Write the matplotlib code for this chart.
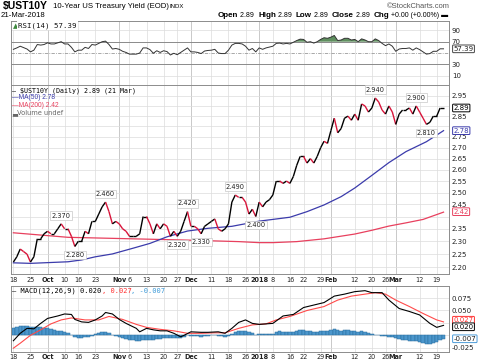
import numpy as np
import pandas as pd
import matplotlib
matplotlib.use("Agg")
import matplotlib.pyplot as plt
from matplotlib.collections import LineCollection

# ------------------------------------------------------------
# data
# ------------------------------------------------------------
holidays = ["2017-10-09", "2017-11-23", "2017-12-25", "2018-01-01", "2018-01-15", "2018-02-19"]
dates = pd.bdate_range("2017-09-18", "2018-03-21")
dates = dates[~dates.isin(pd.to_datetime(holidays))]

yields = [
    2.22, 2.24, 2.27, 2.26, 2.25, 2.22, 2.24, 2.31, 2.31, 2.33,
    2.34, 2.33, 2.33, 2.35, 2.37, 2.35, 2.35, 2.32, 2.28, 2.30,
    2.30, 2.34, 2.33, 2.38, 2.38, 2.41, 2.44, 2.46, 2.42, 2.37,
    2.38, 2.37, 2.35, 2.34, 2.32, 2.32, 2.32, 2.33, 2.40, 2.40,
    2.37, 2.33, 2.37, 2.35, 2.37, 2.36, 2.32, 2.34, 2.32, 2.34,
    2.38, 2.42, 2.36, 2.36, 2.35, 2.33, 2.36, 2.37, 2.38, 2.39,
    2.35, 2.34, 2.35, 2.37, 2.46, 2.49, 2.48, 2.48, 2.46, 2.41,
    2.43, 2.40, 2.46, 2.44, 2.46, 2.47, 2.49, 2.55, 2.55, 2.54,
    2.55, 2.54, 2.57, 2.62, 2.66, 2.66, 2.63, 2.65, 2.63, 2.66,
    2.70, 2.73, 2.72, 2.78, 2.84, 2.77, 2.79, 2.84, 2.85, 2.83,
    2.86, 2.83, 2.91, 2.90, 2.87, 2.89, 2.94, 2.92, 2.88, 2.86,
    2.90, 2.87, 2.81, 2.86, 2.88, 2.88, 2.89, 2.86, 2.90, 2.87,
    2.84, 2.81, 2.82, 2.85, 2.85, 2.89, 2.89,
]

rsi = [
    56.5, 59, 62, 59.5, 57, 52, 55, 65, 64, 65,
    68, 66, 66, 68, 70, 66, 66, 60, 52, 55,
    55, 60, 58, 65, 64, 67, 70, 71, 65, 57,
    58, 56.5, 53, 51, 48, 48, 48, 50, 59, 59,
    56, 49.5, 54, 51, 54, 52.5, 46.5, 49.5, 47, 51,
    55, 59, 52, 52, 51, 49, 53.5, 54.5, 55, 56.5,
    50, 49, 49, 55, 64, 67, 67, 66, 62, 55,
    58, 52, 59, 56.5, 59, 60.5, 62, 67, 67.5, 66,
    67, 66, 69, 72, 74.5, 74, 69, 70, 67.5, 70,
    74, 77, 76, 78, 81, 72, 73, 76, 76, 73,
    74, 70, 75, 73, 70, 70, 75, 72, 67, 63,
    66, 62, 53, 57, 58, 58, 59, 55, 59, 56,
    52, 48, 49, 53, 53, 57.4, 57.39,
]

macd_hist = [
    0.015, 0.017, 0.019, 0.019, 0.018, 0.016, 0.016, 0.017, 0.016, 0.015,
    0.014, 0.012, 0.010, 0.009, 0.008, 0.006, 0.004, 0.000, -0.004, -0.005,
    -0.005, -0.004, -0.004, -0.001, 0.002, 0.004, 0.006, 0.007, 0.005, 0.001,
    -0.001, -0.003, -0.005, -0.007, -0.009, -0.010, -0.011, -0.012, -0.010, -0.009,
    -0.009, -0.009, -0.007, -0.007, -0.006, -0.006, -0.006, -0.006, -0.006, -0.005,
    -0.003, 0.000, -0.001, -0.001, -0.002, -0.003, -0.002, -0.001, 0.000, 0.001,
    -0.001, -0.002, -0.003, -0.002, 0.002, 0.006, 0.008, 0.009, 0.009, 0.006,
    0.004, 0.001, 0.003, 0.002, 0.002, 0.002, 0.003, 0.006, 0.008, 0.007,
    0.007, 0.006, 0.007, 0.009, 0.011, 0.011, 0.009, 0.008, 0.007, 0.007,
    0.008, 0.009, 0.008, 0.010, 0.013, 0.010, 0.009, 0.010, 0.010, 0.009,
    0.009, 0.007, 0.008, 0.007, 0.004, 0.002, 0.001, 0.000, -0.001, -0.002,
    -0.003, -0.004, -0.006, -0.008, -0.009, -0.010, -0.011, -0.011, -0.012, -0.013,
    -0.015, -0.017, -0.017, -0.015, -0.013, -0.010, -0.007,
]

ma50_dates = ["09-18", "09-25", "10-11", "10-17", "10-23", "10-30", "11-07", "11-14",
              "11-21", "11-30", "12-08", "12-19", "01-02", "01-16", "01-23", "01-30",
              "02-06", "02-12", "02-20", "02-27", "03-06", "03-14", "03-21"]
ma50_vals = [2.217, 2.215, 2.221, 2.228, 2.240, 2.251, 2.273, 2.292,
             2.318, 2.341, 2.352, 2.360, 2.381, 2.397, 2.420, 2.448,
             2.483, 2.520, 2.575, 2.632, 2.682, 2.728, 2.780]

ma200_dates = ["09-18", "10-11", "11-07", "11-30", "12-21", "01-02", "01-08", "01-18",
               "01-30", "02-12", "02-20", "02-27", "03-06", "03-13", "03-21"]
ma200_vals = [2.334, 2.316, 2.310, 2.305, 2.299, 2.295, 2.295, 2.299,
              2.310, 2.329, 2.344, 2.361, 2.374, 2.388, 2.418]

macd_dates = ["09-18", "09-20", "09-22", "09-26", "09-28", "10-02", "10-05", "10-10",
              "10-12", "10-13", "10-17", "10-19", "10-23", "10-25", "10-26", "10-30",
              "11-01", "11-03", "11-08", "11-09", "11-13", "11-15", "11-17", "11-21",
              "11-24", "11-28", "11-29", "12-01", "12-06", "12-08", "12-13", "12-15",
              "12-19", "12-21", "12-26", "12-28", "01-02", "01-08", "01-11", "01-17",
              "01-22", "01-25", "01-30", "02-02", "02-07", "02-12", "02-15", "02-20",
              "02-23", "02-27", "03-02", "03-07", "03-12", "03-15", "03-19", "03-21"]
macd_vals = [-0.011, 0.004, 0.014, 0.013, 0.024, 0.034, 0.039, 0.043,
             0.042, 0.032, 0.027, 0.026, 0.031, 0.039, 0.046, 0.043,
             0.032, 0.024, 0.014, 0.007, 0.014, 0.011, 0.009, 0.009,
             0.004, -0.003, 0.000, 0.007, 0.006, 0.006, 0.007, 0.004,
             0.014, 0.026, 0.031, 0.024, 0.022, 0.024, 0.039, 0.042,
             0.056, 0.061, 0.066, 0.079, 0.083, 0.088, 0.090, 0.086,
             0.086, 0.071, 0.054, 0.048, 0.041, 0.024, 0.016, 0.020]

signal_dates = ["09-18", "09-20", "09-25", "09-28", "10-03", "10-06", "10-12", "10-18",
                "10-24", "10-27", "11-02", "11-08", "11-13", "11-17", "11-24", "11-30",
                "12-06", "12-12", "12-15", "12-21", "12-28", "01-04", "01-09", "01-16",
                "01-23", "01-30", "02-05", "02-09", "02-15", "02-21", "02-26", "03-01",
                "03-07", "03-13", "03-19", "03-21"]
signal_vals = [-0.026, -0.016, 0.000, 0.011, 0.023, 0.031, 0.035, 0.031,
               0.031, 0.038, 0.032, 0.022, 0.016, 0.012, 0.009, 0.004,
               0.004, 0.005, 0.005, 0.014, 0.021, 0.023, 0.031, 0.038,
               0.050, 0.058, 0.071, 0.079, 0.083, 0.086, 0.083, 0.071,
               0.058, 0.044, 0.031, 0.027]

tick_dates = ["09-18", "09-25", "10-02", "10-10", "10-16", "10-23", "11-01", "11-06",
              "11-13", "11-20", "11-27", "12-01", "12-11", "12-18", "12-26", "01-02",
              "01-08", "01-16", "01-22", "01-29", "02-01", "02-12", "02-20", "02-26",
              "03-01", "03-12", "03-19"]
tick_labels = ["18", "25", "Oct", "10", "16", "23", "Nov", "6", "13", "20", "27", "Dec",
               "11", "18", "26", "2018", "8", "16", "22", "29", "Feb", "12", "20", "26",
               "Mar", "12", "19"]
month_labels = ["Oct", "Nov", "Dec", "2018", "Feb", "Mar"]

peak_dates = ["10-06", "10-13", "10-26", "11-27", "11-30", "12-06", "12-20", "12-29",
              "02-21", "03-09", "03-14"]
peak_above = [True, False, True, False, True, False, True, False, True, True, False]

# grid levels and the labels left visible beside the value tags
price_grid = [2.20, 2.25, 2.30, 2.35, 2.40, 2.45, 2.50, 2.55, 2.60, 2.65,
              2.70, 2.75, 2.80, 2.85, 2.90, 2.95]
price_ticks = [2.20, 2.25, 2.30, 2.35, 2.45, 2.50, 2.55, 2.60, 2.65,
               2.70, 2.75, 2.85, 2.95]
rsi_grid = [90, 70, 50, 30, 10]
rsi_ticks = [90, 70, 30, 10]
macd_grid = [0.075, 0.050, 0.025, 0.000, -0.025]
macd_ticks = [0.075, 0.050, -0.025]


def pos(md):
    year = 2017 if int(md[:2]) >= 9 else 2018
    return dates.get_loc(pd.Timestamp(f"{year}-{md}"))


x = np.arange(len(dates))
yields = np.array(yields)
rsi = np.array(rsi)
tick_pos = [pos(d) for d in tick_dates]

# ------------------------------------------------------------
# figure layout (StockCharts style)
# ------------------------------------------------------------
W, H = 480, 363
fig = plt.figure(figsize=(W / 100, H / 100), dpi=100)
left, right = 11 / W, 449 / W
ax_rsi = fig.add_axes([left, 1 - 85 / H, right - left, 64 / H])
ax = fig.add_axes([left, 1 - 274 / H, right - left, 189 / H])
ax_m = fig.add_axes([left, 1 - 352 / H, right - left, 66 / H])

RED = "#d8143a"
BLUE = "#3b3bab"
MA_RED = "#e8405e"
GRID = "#dcdcdc"
GRID_M = "#b4b4b4"
LBL = "#222222"
SANS = ["Liberation Sans", "DejaVu Sans"]

for a in (ax_rsi, ax, ax_m):
    for s in a.spines.values():
        s.set_color("#8c8c8c")
        s.set_linewidth(0.7)
    a.yaxis.tick_right()
    a.tick_params(axis="both", length=0, labelsize=5, colors=LBL, pad=2)
    a.set_xlim(-0.7, 127.6)
    for p, lab in zip(tick_pos, tick_labels):
        a.axvline(p, color=GRID_M if lab in month_labels else GRID, lw=0.5, zorder=0)
    a.set_xticks(tick_pos)
    a.set_xticklabels([])

for a in (ax, ax_m):
    a.set_xticklabels(tick_labels)
    for t in a.get_xticklabels():
        t.set_fontsize(4.7)
        if t.get_text() in month_labels:
            t.set_fontweight("bold")
ax.tick_params(axis="x", pad=2.2)
ax_m.tick_params(axis="x", pad=1.2)

# ---- RSI panel ----
ax_rsi.set_ylim(-6.6, 106.6)
for v in rsi_grid:
    if v in (70, 30):
        ax_rsi.axhline(v, color="#8a8a8a", lw=0.7, zorder=1)
    elif v == 50:
        ax_rsi.axhline(v, color="#9a9a9a", lw=0.6, dashes=(4, 1.5, 1, 1.5), zorder=1)
    else:
        ax_rsi.axhline(v, color=GRID, lw=0.5, zorder=0)
ax_rsi.fill_between(x, rsi, 70, where=rsi > 70, interpolate=True,
                    color="#5f8f5f", lw=0, zorder=2)
ax_rsi.plot(x, rsi, color="#333333", lw=0.7, zorder=3)
ax_rsi.set_yticks(rsi_ticks)
ax_rsi.set_yticklabels([str(v) for v in rsi_ticks])
t_icon = ax_rsi.text(0.004, 0.97, "\u25b2", transform=ax_rsi.transAxes,
                     fontsize=5, family="DejaVu Sans", va="top", ha="left", color="#3f8a3f",
                     bbox=dict(boxstyle="square,pad=0.15", fc="white", ec="none"), zorder=5)
ax_rsi.annotate("RSI(14) 57.39", xy=(1, 0), xycoords=t_icon, va="bottom", ha="left",
                fontsize=5.3, family="DejaVu Sans Mono", color="#111111", zorder=5,
                bbox=dict(boxstyle="square,pad=0.15", fc="white", ec="none"))

# ---- price panel ----
ax.set_yscale("log")
ax.set_ylim(2.175, 3.006)
for v in price_grid:
    ax.axhline(v, color=GRID, lw=0.5, zorder=0)
ax.set_yticks(price_ticks)
ax.set_yticklabels([f"{v:.2f}" for v in price_ticks])
ax.yaxis.set_minor_locator(matplotlib.ticker.NullLocator())

ax.plot([pos(d) for d in ma200_dates], ma200_vals, color=MA_RED, lw=0.9, zorder=2)
ax.plot([pos(d) for d in ma50_dates], ma50_vals, color=BLUE, lw=0.9, zorder=2)

pts = np.column_stack([x, yields])
segs = np.stack([pts[:-1], pts[1:]], axis=1)
seg_cols = [RED if b < a else "black" for a, b in zip(yields[:-1], yields[1:])]
ax.add_collection(LineCollection(segs, colors=seg_cols, linewidths=1.0, zorder=3))

for d, above in zip(peak_dates, peak_above):
    p = pos(d)
    ax.annotate(f"{yields[p]:.3f}", xy=(p, yields[p]), xytext=(0, 6 if above else -6),
                textcoords="offset points", ha="center", va="center", fontsize=4.8,
                color="#222222", zorder=6,
                bbox=dict(boxstyle="square,pad=0.18", fc="white", ec="#c8c8c8", lw=0.5))

leg_y = [0.968, 0.933, 0.894, 0.856]
ax.text(0.003, leg_y[0], "\u2014 $UST10Y (Daily) 2.89 (21 Mar)", transform=ax.transAxes,
        fontsize=4.8, family="DejaVu Sans Mono", color="black", va="center")
ax.text(0.003, leg_y[1], "\u2014MA(50) 2.78", transform=ax.transAxes,
        fontsize=4.8, family=SANS, color=BLUE, va="center")
ax.text(0.003, leg_y[2], "\u2014MA(200) 2.42", transform=ax.transAxes,
        fontsize=4.8, family=SANS, color=MA_RED, va="center")
ax.text(0.003, leg_y[3], "\u2583Volume undef", transform=ax.transAxes,
        fontsize=4.8, family=["DejaVu Sans", "Liberation Sans"], color="#666666", va="center")

# ---- MACD panel ----
ax_m.set_ylim(-0.0337, 0.0994)
for v in macd_grid:
    ax_m.axhline(v, color=GRID, lw=0.5, zorder=0)
ax_m.bar(x, macd_hist, width=1.0, color="#4b96cc", edgecolor="#2a6d9e", linewidth=0.35, zorder=2)
ax_m.plot([pos(d) for d in signal_dates], signal_vals, color="#ff4a4a", lw=0.8, zorder=3)
ax_m.plot([pos(d) for d in macd_dates], macd_vals, color="black", lw=0.8, zorder=4)
ax_m.set_yticks(macd_ticks)
ax_m.set_yticklabels([f"{v:.3f}" for v in macd_ticks])

t0 = ax_m.text(0.003, 0.925, "\u2014 MACD(12,26,9) 0.020", transform=ax_m.transAxes,
               fontsize=5, family="DejaVu Sans Mono", color="black", va="center")
t1 = ax_m.annotate(", 0.027", xy=(1, 0), xycoords=t0, va="bottom", ha="left",
                   fontsize=5, family="DejaVu Sans Mono", color="#ff3030")
ax_m.annotate(", -0.007", xy=(1, 0), xycoords=t1, va="bottom", ha="left",
              fontsize=5, family="DejaVu Sans Mono", color="#3c9ad8")


# ---- value tags on the right axis ----
def tag(a, val, txt, ec, fc_txt, dy=0):
    a.annotate(txt, xy=(1, val), xycoords=("axes fraction", "data"), xytext=(3.2, dy),
               textcoords="offset points", ha="left", va="center", fontsize=5,
               color=fc_txt, annotation_clip=False, zorder=10,
               bbox=dict(boxstyle="round,pad=0.12", fc="white", ec=ec, lw=0.7))


tag(ax_rsi, 57.39, "57.39", "#444444", "#222222")
tag(ax, 2.89, "2.89", "black", "black")
tag(ax, 2.78, "2.78", BLUE, BLUE)
tag(ax, 2.42, "2.42", MA_RED, MA_RED)
tag(ax_m, 0.027, "0.027", "#ff3030", "#ff3030", dy=1.2)
tag(ax_m, 0.020, "0.020", "black", "black", dy=-1.0)
tag(ax_m, -0.007, "-0.007", "#4a9ad8", "#222222")

# ---- header ----
fig.text(3 / W, 1 - 6.5 / H, "$UST10Y", fontsize=7.5, fontweight="bold",
         family=SANS, va="center", ha="left")
fig.text(53 / W, 1 - 6.5 / H, "10-Year US Treasury Yield (EOD)", fontsize=5.6,
         family=SANS, va="center", ha="left")
fig.text(170 / W, 1 - 7 / H, "INDX", fontsize=4.3, family=SANS,
         va="center", ha="left")
fig.text(1 / W, 1 - 15.5 / H, "21-Mar-2018", fontsize=5.6, family=SANS,
         va="center", ha="left")
fig.text(450 / W, 1 - 6 / H, "\u00a9StockCharts.com", fontsize=5.4, family=SANS,
         color="#555555", va="center", ha="right")

parts = [("Open", True), (" 2.89  ", False), ("High", True), (" 2.89  ", False),
         ("Low", True), (" 2.89  ", False), ("Close", True), (" 2.89  ", False),
         ("Chg", True), (" +0.00 (+0.00%) \u25ac", False)]
prev = fig.text(218 / W, 1 - 15.5 / H, parts[0][0], fontsize=5.8, fontweight="bold",
                family=SANS, va="center", ha="left")
for s, bold in parts[1:]:
    prev = ax_rsi.annotate(s, xy=(1, 0), xycoords=prev, va="bottom", ha="left",
                           fontsize=5.8 if bold else 5.0,
                           fontweight="bold" if bold else "normal",
                           family=SANS, annotation_clip=False)

fig.savefig("out.png", dpi=100)
